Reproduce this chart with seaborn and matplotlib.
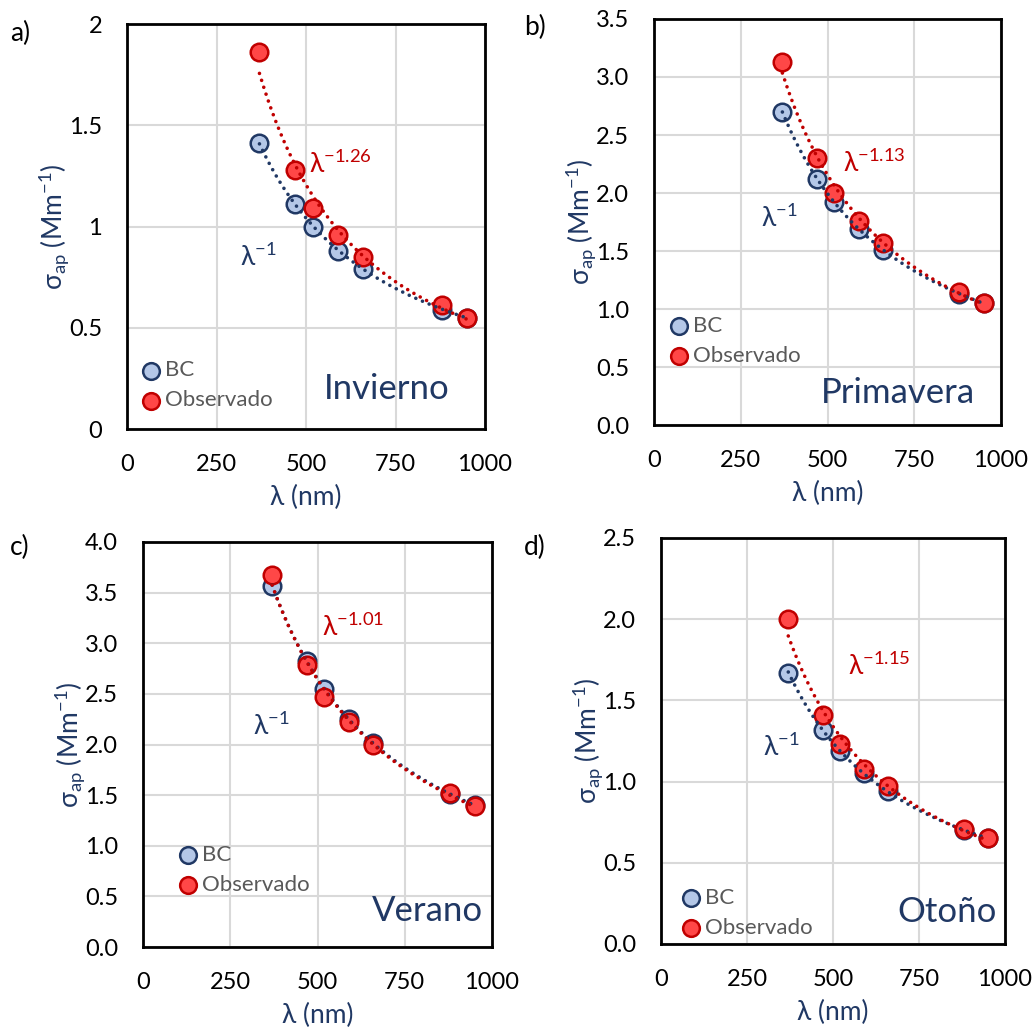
import numpy as np
import pandas as pd
import matplotlib
matplotlib.use("Agg")
import matplotlib.pyplot as plt
import seaborn as sns

sns.set_style("white")
plt.rcParams['font.family'] = ['Lato', 'DejaVu Sans']
plt.rcParams['mathtext.default'] = 'regular'

# longitudes de onda del aetalómetro (nm)
wavelengths = [370, 470, 520, 590, 660, 880, 950]

seasons = ["Invierno", "Primavera", "Verano", "Otoño"]
panel_tags = ["a)", "b)", "c)", "d)"]

bc_invierno = [1.41, 1.11, 1.00, 0.88, 0.79, 0.59, 0.55]
obs_invierno = [1.86, 1.28, 1.09, 0.96, 0.85, 0.61, 0.55]

bc_primavera = [2.70, 2.12, 1.92, 1.69, 1.51, 1.13, 1.05]
obs_primavera = [3.13, 2.30, 2.00, 1.76, 1.57, 1.15, 1.05]

bc_verano = [3.57, 2.82, 2.55, 2.25, 2.01, 1.51, 1.40]
obs_verano = [3.67, 2.79, 2.47, 2.22, 2.00, 1.52, 1.39]

bc_otono = [1.67, 1.32, 1.19, 1.05, 0.94, 0.70, 0.65]
obs_otono = [2.00, 1.41, 1.23, 1.08, 0.97, 0.71, 0.65]

aae_labels = ["-1.26", "-1.13", "-1.01", "-1.15"]
y_max = [2.0, 3.5, 4.0, 2.5]
y_step = [0.5, 0.5, 0.5, 0.5]
y_fmt = ["{:g}", "{:.1f}", "{:.1f}", "{:.1f}"]

bc_all = [bc_invierno, bc_primavera, bc_verano, bc_otono]
obs_all = [obs_invierno, obs_primavera, obs_verano, obs_otono]

NAVY = "#203864"
RED = "#C00000"
BC_FACE = "#B4C7E7"
OBS_FACE = "#FF4747"
GREY_TXT = "#595959"

W, H = 1032, 1028
# axes boxes in pixels: left, top, right, bottom
boxes = [(127, 24, 485, 429), (654, 19, 1001, 425),
         (143, 542, 492, 947), (661, 538, 1005, 944)]
legend_pos = [(-0.002, 0.013), (0.0015, 0.113), (0.059, 0.095), (0.016, -0.017)]
season_pos = [(0.90, 0.10), (0.925, 0.08), (0.975, 0.09), (0.975, 0.08)]
red_lbl_pos = [(508, 1.31), (546, 2.26), (514, 3.16), (545, 1.71)]
blue_lbl_pos = [(316, 0.85), (309, 1.78), (316, 2.18), (297, 1.21)]
tag_pos = [(10, 33), (524, 27), (10, 547), (524, 547)]

fig = plt.figure(figsize=(W / 100, H / 100), dpi=100)

for i in range(4):
    l, t, r, b = boxes[i]
    ax = fig.add_axes([l / W, 1 - b / H, (r - l) / W, (b - t) / H])

    df = pd.DataFrame({
        "lam": wavelengths * 2,
        "sigma": bc_all[i] + obs_all[i],
        "serie": ["BC"] * 7 + ["Observado"] * 7,
    })

    # power-law fits in log-log space (Excel style trend lines)
    fits = []
    for serie in ["BC", "Observado"]:
        sub = df[df["serie"] == serie]
        k, c = np.polyfit(np.log(sub["lam"]), np.log(sub["sigma"]), 1)
        xx = np.linspace(min(wavelengths), max(wavelengths), 200)
        fits.append(pd.DataFrame({"lam": xx, "sigma": np.exp(c) * xx ** k, "serie": serie}))
    fit_df = pd.concat(fits)

    sns.scatterplot(data=df[df["serie"] == "BC"], x="lam", y="sigma", ax=ax,
                    s=160, color=BC_FACE, edgecolor=NAVY, linewidth=1.8,
                    label="BC", zorder=3)
    sns.scatterplot(data=df[df["serie"] == "Observado"], x="lam", y="sigma", ax=ax,
                    s=160, color=OBS_FACE, edgecolor=RED, linewidth=1.8,
                    label="Observado", zorder=4)
    sns.lineplot(data=fit_df, x="lam", y="sigma", hue="serie",
                 palette={"BC": NAVY, "Observado": RED}, ax=ax,
                 linewidth=2.6, linestyle=(0, (0.01, 2.0)), dash_capstyle="round",
                 legend=False, zorder=5, estimator=None, sort=False)

    ax.set_xlim(0, 1000)
    ax.set_ylim(0, y_max[i])
    ax.set_xticks([0, 250, 500, 750, 1000])
    yt = np.arange(0, y_max[i] + 1e-9, y_step[i])
    ax.set_yticks(yt)
    ax.set_yticklabels([y_fmt[i].format(v) for v in yt])
    ax.grid(True, color="#D9D9D9", linewidth=1.5)
    ax.set_axisbelow(True)
    for sp in ax.spines.values():
        sp.set_color("black")
        sp.set_linewidth(2)
    ax.tick_params(axis="both", which="major", direction="out", length=7,
                   width=1.6, labelsize=17, colors="black", pad=11)

    ax.set_xlabel("λ (nm)", color=NAVY, fontsize=19, labelpad=7)
    ax.set_ylabel(r"σ$_{ap}$ (Mm$^{-1}$)", color=NAVY, fontsize=19, labelpad=-2)

    leg = ax.legend(loc="lower left", bbox_to_anchor=legend_pos[i], frameon=False,
                    fontsize=16, handlelength=1.0, handletextpad=0.15,
                    labelspacing=0.45, borderaxespad=0.2, markerscale=0.95)
    for txt in leg.get_texts():
        txt.set_color(GREY_TXT)

    ax.text(season_pos[i][0], season_pos[i][1], seasons[i], transform=ax.transAxes,
            ha="right", va="center", fontsize=25, color=NAVY)
    ax.text(red_lbl_pos[i][0], red_lbl_pos[i][1], "λ$^{" + aae_labels[i] + "}$",
            ha="left", va="center", fontsize=19, color=RED, zorder=6)
    ax.text(blue_lbl_pos[i][0], blue_lbl_pos[i][1], "λ$^{-1}$",
            ha="left", va="center", fontsize=19, color=NAVY, zorder=6)

    fig.text(tag_pos[i][0] / W, 1 - tag_pos[i][1] / H, panel_tags[i],
             ha="left", va="center", fontsize=19, color="black")

fig.savefig("out.png", dpi=100)
